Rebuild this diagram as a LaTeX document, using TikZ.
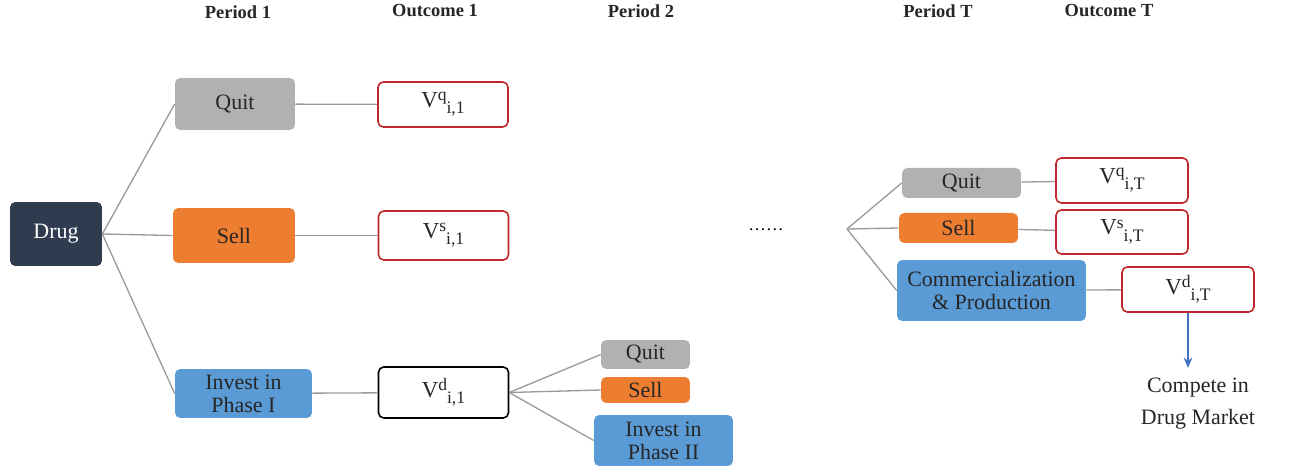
\documentclass[tikz,border=0pt]{standalone}
\usepackage{fontspec}
\setmainfont{Liberation Serif}
\usetikzlibrary{arrows.meta, positioning}
\definecolor{drugNavy}{HTML}{2F3C4F}
\definecolor{quitGray}{HTML}{B1B1B4}
\definecolor{sellOrange}{HTML}{ED7D31}
\definecolor{investBlue}{HTML}{5B9BD5}
\definecolor{valRed}{HTML}{C0272D}
\definecolor{linkGray}{HTML}{9A9A9A}
\definecolor{arrowBlue}{HTML}{4472C4}
\definecolor{txtDark}{HTML}{262626}
\newcommand{\smallidx}{\fontsize{10}{10}\selectfont}
\newcommand{\vval}[2]{V\raisebox{3.6pt}{\smallidx #1}\raisebox{-3.8pt}{\smallidx #2}}
\tikzset{
    font=\rmfamily\fontsize{12.5}{13}\selectfont,
    >=Stealth,
    % Colors
    optGray/.style={fill=quitGray, text=txtDark},
    optOrange/.style={fill=sellOrange, text=txtDark},
    optBlue/.style={fill=investBlue, text=txtDark},
    % Shapes
    choice/.style={rectangle, rounded corners=3pt, inner sep=1pt, align=center},
    value/.style={rectangle, draw=valRed, line width=0.9pt, rounded corners=3pt,
                  inner sep=1pt, minimum width=2.6cm, minimum height=0.9cm, text=txtDark,
                  font=\rmfamily\fontsize{13}{13}\selectfont},
    head/.style={font=\rmfamily\fontsize{10.5}{11}\selectfont\bfseries, text=txtDark},
    % Flow & Labels
    link/.style={draw=linkGray, line width=0.75pt},
    flow/.style={-{Stealth[length=6pt, width=5pt]}, arrowBlue, line width=0.75pt}
}

\begin{document}
\begin{tikzpicture}[x=0.02cm, y=-0.02cm]
\useasboundingbox (0,0) rectangle (1289,469);

% column heads
\node[head] (h1) at (238,12) {Period 1};
\node[head] (h2) at (435,11) {Outcome 1};
\node[head] (h3) at (641,11) {Period 2};
\node[head] (h4) at (938,11) {Period T};
\node[head] (h5) at (1109,11) {Outcome T};

% first period
\node[choice, fill=drugNavy, text=white, minimum width=1.84cm, minimum height=1.28cm] (drug) at (56,234) {Drug};
\node[choice, optGray, minimum width=2.4cm, minimum height=1.04cm] (quit1) at (235,104) {Quit};
\node[choice, optOrange, minimum width=2.44cm, minimum height=1.1cm] (sell1) at (234,235.5) {Sell};
\node[choice, optBlue, minimum width=2.74cm, minimum height=0.98cm] (inv1) at (243.5,393.5) {Invest in\\Phase I};

\node[value] (vq1) at (443,104.5) {\vval{q}{i,1}};
\node[value, minimum height=0.98cm] (vs1) at (443.5,235.5) {\vval{s}{i,1}};
\node[value, draw=black, minimum height=1.02cm] (vd1) at (443.5,392.5) {\vval{d}{i,1}};

% second period
\node[choice, optGray, minimum width=1.78cm, minimum height=0.58cm] (quit2) at (645.5,354.5) {Quit};
\node[choice, optOrange, minimum width=1.78cm, minimum height=0.52cm] (sell2) at (645.5,390) {Sell};
\node[choice, optBlue, minimum width=2.78cm, minimum height=1.02cm] (inv2) at (663.5,440.5) {Invest in\\Phase II};

% last period
\node[anchor=base, font=\rmfamily\fontsize{10}{10}\selectfont] (dots) at (766,231) {\dots\dots};
\coordinate (fork) at (847,229);
\node[choice, optGray, minimum width=2.38cm, minimum height=0.6cm] (quitT) at (961.5,183) {Quit};
\node[choice, optOrange, minimum width=2.38cm, minimum height=0.6cm] (sellT) at (958.5,228) {Sell};
\node[choice, optBlue, minimum width=3.78cm, minimum height=1.22cm] (commT) at (991.5,290.5) {Commercialization\\\& Production};

\node[value, minimum width=2.64cm] (vqT) at (1122,180.5) {\vval{q}{i,T}};
\node[value, minimum width=2.64cm, minimum height=0.88cm] (vsT) at (1122,232) {\vval{s}{i,T}};
\node[value, minimum width=2.64cm] (vdT) at (1188,289.5) {\vval{d}{i,T}};

\coordinate (mktTop) at (1188,368);
\node[align=center, text=txtDark, font=\rmfamily\fontsize{12.5}{18.3}\selectfont] (mkt) at (1198,404) {Compete in\\Drug Market};

% links
\draw[link] (drug.east) -- (quit1.west);
\draw[link] (drug.east) -- (sell1.west);
\draw[link] (drug.east) -- (inv1.west);
\draw[link] (quit1) -- (vq1);
\draw[link] (sell1) -- (vs1);
\draw[link] (inv1) -- (vd1);
\draw[link] (vd1.east) -- (quit2.west);
\draw[link] (vd1.east) -- (sell2.west);
\draw[link] (vd1.east) -- (inv2.west);
\draw[link] (fork) -- (quitT.west);
\draw[link] (fork) -- (sellT.west);
\draw[link] (fork) -- (commT.west);
\draw[link] (quitT) -- (vqT);
\draw[link] (sellT) -- (vsT);
\draw[link] (commT) -- (vdT);
\draw[flow] (vdT.south) -- (mktTop);

\end{tikzpicture}
\end{document}
